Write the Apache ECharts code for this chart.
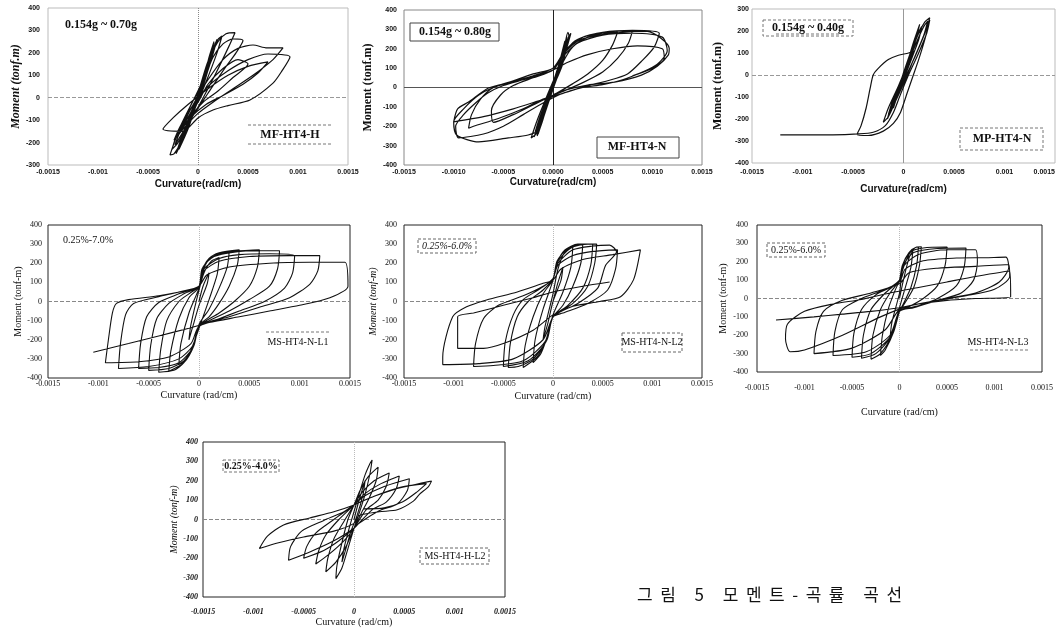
<!DOCTYPE html>
<html>
<head>
<meta charset="utf-8">
<script src="https://cdn.jsdelivr.net/npm/echarts@6/dist/echarts.min.js"></script>
<style>
html,body{margin:0;padding:0;background:#fff;}
#chart{position:absolute;left:0;top:0;width:1060px;height:628px;}
#cap{position:absolute;left:637px;top:581px;font-family:'Noto Sans CJK KR';font-size:17px;letter-spacing:7.5px;white-space:nowrap;color:#111;}
</style>
</head>
<body>
<div id="chart"></div>
<div id="cap">그림 5 모멘트-곡률 곡선</div>
<script>
// Curvature in units of 1e-4 rad/cm, moment in tonf-m
const xTicksShort = ['-0.0015','-0.001','-0.0005','0','0.0005','0.001','0.0015'];
const xTicksLong  = ['-0.0015','-0.0010','-0.0005','0.0000','0.0005','0.0010','0.0015'];

const loopMFHT4H = [
[0,0],[0.5,70],[1,140],[1.3,180],[0.9,110],[0,-10],[-0.8,-110],[-1.3,-170],[-0.9,-100],[0,20],
[0.7,120],[1.3,200],[1.7,240],[1.2,150],[0.2,20],[-0.9,-120],[-1.7,-210],[-2.1,-240],[-1.5,-160],[-0.4,-30],
[0.6,90],[1.1,180],[1.6,250],[1.1,160],[0.1,10],[-1,-140],[-1.9,-230],[-1.3,-150],[-0.2,-10],
[0.9,150],[1.9,260],[1.4,180],[0.2,30],[-1.1,-150],[-2.2,-250],[-1.6,-170],[-0.3,-20],
[0.6,100],[1.4,210],[2,260],[2.4,275],[1.9,200],[0.8,70],[-0.6,-80],[-1.6,-190],[-2.4,-250],[-2.8,-255],[-2.2,-180],[-1,-60],
[0.3,60],[1.2,180],[2,250],[2.8,285],[3.7,290],[3.1,230],[1.8,110],[0.4,-10],[-1,-120],[-2,-200],[-2.6,-230],[-2,-150],[-0.8,-40],
[0.5,70],[1.5,180],[2.5,240],[3.5,262],[4.5,255],[3.8,200],[2.5,120],[1,20],[-0.5,-80],[-1.6,-160],[-2.3,-210],[-1.7,-140],[-0.6,-40],
[1,80],[2.5,170],[4,220],[5.5,235],[6.9,222],[8.5,222],[7.5,170],[5.5,100],[3.5,40],[1.5,-20],[0,-70],[-1.3,-130],[-2.4,-190],[-1.8,-130],[-0.6,-40],
[1,50],[3,120],[5,170],[7,195],[9.2,182],[8.4,120],[7.5,65],[5.2,-10],[3,-35],[1.5,-55],[0,-90],[-1.5,-150],[-3.5,-140],[-2.5,-90],[-1,-30],
[1,40],[3,100],[5,140],[7,160],[6,110],[4.5,60],[2.5,10],[0.8,-30],[-0.8,-90],[-1.8,-150],[-1.2,-100],[0,-20],
[1,60],[2.5,130],[4,170],[5,150],[3.5,90],[2,30],[0.5,-20],[-1,-100],[-2,-170],[-1.4,-120],[-0.3,-30],[0.5,50],[1.1,140],[1.5,210],[1.2,160],[0.4,50],[-0.5,-60],[-1.2,-140],[-1.7,-200],[-1.3,-150],[-0.4,-40],[0.4,60],[0.9,130]
];

const loopMFHT4N = [
[0,0],[0.5,80],[1,150],[1.3,190],[0.9,110],[0,0],[-0.7,-90],[-1.2,-150],[-0.8,-90],[0,20],
[0.6,110],[1.1,200],[1.5,250],[1.1,160],[0.2,30],[-0.7,-100],[-1.4,-190],[-1.8,-230],[-1.3,-150],[-0.3,-20],
[0.3,60],[0.9,170],[1.4,260],[1,180],[0.1,20],[-0.8,-130],[-1.5,-240],[-1,-160],[-0.1,-10],
[0.7,140],[1.2,240],[0.8,150],[-0.2,-20],[-1.1,-180],[-1.6,-250],[-1.1,-170],[0,10],
[0.5,100],[1.2,210],[1.6,270],[1.5,285],[1.1,200],[0.2,50],[-0.8,-110],[-1.6,-220],[-1.9,-255],[-1.4,-180],[-0.4,-40],
[0.6,120],[1.3,230],[1.8,280],[1.3,190],[0.3,40],[-0.8,-130],[-1.5,-230],[-2.2,-260],[-1.6,-170],[-0.5,-30],
[0.4,80],[1,170],[1.6,250],[1.2,170],[0.2,20],[-0.9,-140],[-1.7,-240],[-1.3,-170],[-0.2,-10],
[1,130],[2,210],[3.5,260],[5,280],[6.5,285],[6,220],[5,140],[3.5,70],[2,20],[0,-40],[-2,-90],[-4,-140],[-6,-180],[-6.2,-120],[-5.3,-40],[-4,10],[-2,50],[0,90],
[1,170],[2.2,240],[4,275],[6,290],[8,292],[7.6,230],[6.5,150],[5,80],[3,25],[1,-20],[-1,-60],[-3,-110],[-5.5,-160],[-8,-200],[-8.5,-210],[-8.2,-140],[-7.3,-60],[-6,0],[-4,35],[-2,70],[0,100],
[1.2,190],[2.8,255],[5,285],[8,295],[10.7,280],[10.2,210],[9,140],[7.5,70],[5.5,35],[3.5,10],[1,-30],[-1.5,-70],[-4,-110],[-7,-150],[-10,-177],[-9.6,-110],[-8.5,-75],[-6.5,-3],[-4.2,28],[-2,60],[0,100],
[1,170],[2.5,240],[4.5,270],[7,285],[9.5,290],[11.7,203],[11.6,167],[10.5,110],[8.9,64],[6.2,28],[3.5,13],[1.5,-10],[0,-40],[-1,-130],[-1.5,-220],[-2.5,-245],[-4.5,-260],[-7.5,-281],[-9.7,-245],[-10,-177],[-9,-110],[-7.5,-40],[-6,0],[-4,30],[-2,60],[0,90],
[1,160],[2.5,230],[5,270],[8,280],[11,260],[11.5,190],[10.5,120],[9,80],[7,40],[5,15],[3,0],[1,-30],[-1,-80],[-3,-140],[-5,-200],[-7,-240],[-9.5,-260],[-9.8,-200],[-9,-140],[-7.8,-80],[-6.6,-30],[-5,10],[-3,40],[-1,70],[0,90],[1.5,130],[3.5,170],[6,200],[8.5,215],[11,200],[11.2,150],[10,100],[8,60]
];

const loopMPHT4N = [
[0,0],[0.5,70],[1,140],[1.3,180],[1,120],[0.2,10],[-0.5,-80],[-1,-150],[-0.7,-90],[0,10],
[0.6,90],[1.2,170],[1.8,220],[1.5,160],[0.6,50],[-0.3,-60],[-1,-140],[-1.6,-200],[-1.2,-140],[-0.3,-30],
[0.4,60],[1,150],[1.6,230],[1.2,160],[0.3,40],[-0.6,-90],[-1.3,-170],[-0.9,-110],[0,0],
[0.6,80],[1.4,180],[2.1,240],[2.6,260],[2.2,200],[1.2,90],[0.1,-20],[-0.8,-120],[-1.5,-190],[-2,-215],[-1.5,-150],[-0.5,-50],
[0.5,60],[1.3,150],[2,220],[2.4,245],[2,180],[1,70],[0,-40],[-0.8,-120],[-1.5,-180],[-1.1,-120],[-0.2,-20],
[0.5,50],[1,110],[0.5,100],[-0.5,90],[-1.5,70],[-2.5,30],[-3,0],[-3.3,-60],[-3.7,-150],[-4.2,-230],[-4.6,-270],[-3.5,-275],[-2,-255],[-1,-220],[-0.3,-170],[0.3,-90],[0.9,-10],[1.5,70],[2.1,160],[2.6,250],[2.3,190],[1.4,90],[0.4,-10],[-0.4,-100],[-1,-170],[-1.8,-230],[-3,-260],[-4.5,-268],[-7,-272],[-9.5,-272],[-12.2,-272]
];

const loopMSHT4NL1 = [
[0,0],[0.4,80],[1,150],[0.8,90],[0,-20],[-0.5,-110],[-1,-200],[-0.8,-120],[0,60],
[0.5,150],[1.2,210],[2,230],[1.8,140],[1,10],[0.2,-110],[-0.4,-200],[-1.2,-300],[-2,-330],[-1.8,-220],[-1,-60],[0,70],
[0.3,150],[1,220],[2,250],[3,260],[2.8,180],[2,70],[1,-40],[0,-120],[-0.5,-230],[-1.5,-320],[-3,-365],[-2.8,-260],[-2,-90],[-1,20],[0,75],
[0.3,160],[1,225],[2,255],[4,270],[3.8,190],[3,80],[2,-10],[1,-80],[0,-125],[-0.5,-230],[-1.5,-320],[-2.5,-360],[-4,-370],[-3.8,-250],[-3.2,-100],[-2,0],[-1,40],[0,80],
[0.3,170],[1.2,230],[3,260],[5,268],[6,270],[5.8,180],[5,80],[3.5,0],[2,-60],[0,-130],[-0.5,-230],[-1.5,-310],[-3,-350],[-5,-360],[-4.8,-230],[-4.2,-90],[-3,-10],[-1.5,40],[0,80],
[0.4,180],[1.5,235],[3.5,258],[6,265],[8,265],[7.8,170],[7,80],[5,10],[3,-50],[1,-100],[0,-130],[-0.6,-240],[-2,-320],[-4,-345],[-6,-350],[-5.8,-220],[-5.2,-80],[-4,-5],[-2,40],[0,80],
[0.5,170],[2,225],[4,245],[7,250],[9.5,240],[9.3,150],[8.5,70],[6.5,0],[4,-50],[2,-90],[0,-130],[-0.6,-230],[-2,-300],[-5,-340],[-8,-350],[-7.8,-220],[-7.3,-70],[-6.5,-10],[-4,25],[-2,50],[0,80],
[0.5,160],[2,210],[5,235],[9,240],[12,240],[11.8,160],[11,90],[9,20],[6,-30],[3,-80],[0,-130],[-0.8,-220],[-3,-290],[-6,-315],[-9.3,-320],[-9,-200],[-8.6,-60],[-8.2,-10],[-7,10],[-4,30],[-1,60],[0,80],
[0.8,140],[3,180],[7,200],[11,205],[14.5,205],[14.8,80],[13,20],[10,-20],[7,-50],[4,-80],[1,-110],[-1,-140],[-4,-180],[-7,-220],[-10.5,-265]
];

const loopMSHT4NL2 = [
[0,0],[0.5,100],[1,180],[0.8,110],[0,0],[-0.5,-110],[-1,-200],[-0.8,-130],[0,40],
[0.5,170],[1.2,260],[2,290],[1.8,180],[1,50],[0,-70],[-0.5,-170],[-1.2,-270],[-2,-320],[-1.8,-200],[-1,-40],[0,110],
[0.4,200],[1.2,270],[2.5,300],[3,300],[2.8,200],[2,80],[1,-20],[0,-80],[-0.6,-190],[-1.6,-290],[-3,-345],[-2.8,-230],[-2,-80],[-1,40],[0,115],
[0.4,210],[1.5,280],[3,300],[4,300],[3.8,190],[3,70],[1.5,-20],[0,-80],[-0.6,-200],[-2,-300],[-3.5,-340],[-4.5,-345],[-4.3,-220],[-3.6,-80],[-2.5,0],[-1,60],[0,120],
[0.5,210],[1.8,280],[3.5,300],[4.4,300],[4.2,200],[3.5,80],[2,-10],[0,-80],[-0.7,-210],[-2.5,-310],[-5,-340],[-4.8,-210],[-4,-70],[-3,10],[-1.5,60],[0,120],
[0.5,200],[2,270],[4,290],[5.7,295],[6.4,260],[5.3,190],[4.5,70],[2.5,-10],[0,-80],[-0.8,-210],[-3,-310],[-6,-335],[-8,-340],[-7.8,-220],[-7,-90],[-5.5,-20],[-3,30],[-1,80],[0,120],
[0.5,190],[2,240],[4,262],[6.5,270],[6.3,170],[5.5,60],[3.5,-10],[1,-60],[0,-80],[-1,-200],[-4,-300],[-7.5,-325],[-11.1,-330],[-11.1,-290],[-10.1,-80],[-8.7,-28],[-6.7,8],[-3.6,50],[-1,95],[0,112],
[0.8,170],[3,220],[6,245],[8.8,270],[8.1,113],[6.8,25],[4.7,0],[2,-25],[0,-70],[-2,-150],[-5,-220],[-7,-245],[-9.6,-245],[-9.6,-80],[-8,-60],[-5,-20],[-2,20],[0,50],[3,80],[5.7,102]
];

const loopMSHT4NL3 = [
[0,0],[0.5,120],[1,220],[1.4,260],[1.2,170],[0.5,40],[0,-50],[-0.5,-140],[-1,-220],[-0.8,-130],[0,30],
[0.3,150],[1,240],[1.6,275],[2,280],[1.8,180],[1.2,60],[0.3,-40],[0,-70],[-0.6,-180],[-1.5,-280],[-2,-310],[-1.8,-200],[-1.2,-60],[-0.5,40],[0,100],
[0.3,180],[1,250],[1.8,280],[2.3,282],[2.1,180],[1.5,60],[0.5,-30],[0,-70],[-0.8,-200],[-2,-300],[-3,-330],[-2.8,-200],[-2,-60],[-1,30],[0,100],
[0.4,190],[1.2,255],[2.5,275],[5,280],[4.8,180],[4,70],[2.5,0],[1,-45],[0,-70],[-0.8,-200],[-2.5,-300],[-4,-325],[-3.8,-200],[-3,-60],[-1.5,30],[0,100],
[0.5,190],[1.5,250],[4,272],[7,275],[6.8,170],[6,70],[4,0],[2,-40],[0,-70],[-1,-210],[-3,-300],[-5,-320],[-4.8,-190],[-4,-60],[-2.5,20],[-1,60],[0,100],
[0.5,180],[2,240],[5,265],[8,265],[8.2,200],[7.8,100],[6.5,30],[4,-10],[1.5,-50],[0,-70],[-1,-200],[-3.5,-290],[-7,-310],[-6.8,-180],[-6,-60],[-4,0],[-2,40],[0,90],
[0.6,160],[2.5,205],[6,220],[9,222],[11.2,225],[11.5,170],[10.5,90],[8,30],[5,0],[2,-30],[0,-60],[-1.5,-170],[-5,-270],[-9,-300],[-8.8,-180],[-8,-70],[-6,-10],[-3,30],[0,80],
[1,140],[4,165],[8,175],[11.5,185],[11.6,120],[10,50],[7,15],[4,-10],[1,-40],[-2,-100],[-6,-200],[-10,-280],[-11.5,-290],[-12,-220],[-11.8,-140],[-10,-70],[-7,-30],[-4,-5],[-1,30],[2,60],[5,90],[8,120],[11.6,150],[11.7,10],[8,0],[5,-10],[2,-30],[0,-50],[-3,-70],[-6,-85],[-9,-100],[-13,-117]
];

const loopMSHT4HL2 = [
[0,0],[0.4,80],[0.8,150],[1.1,200],[0.9,130],[0.3,20],[-0.3,-60],[-0.8,-150],[-1.2,-220],[-1,-150],[-0.4,-30],[0,40],
[0.5,130],[1.1,230],[1.6,290],[1.8,307],[1.6,240],[1.1,130],[0.5,30],[0,-45],[-0.6,-150],[-1.2,-250],[-1.8,-305],[-1.7,-240],[-1.2,-120],[-0.6,0],[0,75],
[0.6,150],[1.4,220],[2.4,270],[2.2,200],[1.5,110],[0.7,30],[0,-45],[-0.8,-140],[-1.8,-220],[-2.8,-270],[-2.6,-200],[-2,-100],[-1,-10],[0,75],
[0.8,140],[2,200],[3.5,240],[3.2,170],[2.4,100],[1.2,50],[0,-45],[-1,-110],[-2.5,-180],[-3.8,-230],[-3.5,-160],[-2.8,-80],[-1.5,0],[0,75],
[1,130],[2.5,180],[4.5,225],[4.2,160],[3.2,90],[1.8,50],[0,-45],[-1.5,-110],[-3,-160],[-5,-200],[-4.7,-140],[-3.8,-70],[-2,0],[0,75],
[1,120],[3,170],[5.5,210],[5.3,150],[4.3,80],[2.5,45],[0.5,-20],[0,-45],[-2,-110],[-4.5,-170],[-6.5,-210],[-6.3,-140],[-5.2,-60],[-3,-5],[-1,40],[0,75],
[1.5,110],[4,155],[6.5,185],[7.7,198],[7.4,170],[6.5,130],[5.9,95],[4.3,50],[2.5,40],[0.5,20],[0,-20],[-2,-60],[-5,-90],[-7.5,-120],[-9.4,-150],[-8.6,-86],[-7,-28],[-4.4,8],[-2,40],[0,75],[2,120],[4.5,165],[7.2,185],[6.2,140],[4.8,90],[3,60],[1,55]
];

const panels = [
  {name:'MF-HT4-H', data:loopMFHT4H, ticks:xTicksShort, ymin:-300, ymax:400,
   grid:{left:48, top:8, width:300, height:157}, style:'top', border:'#bbb',
   xLabelMargin:4, yLabelMargin:8, xNameGap:14, yNameGap:26, yItalic:true,
   zeroH:{color:'#999', type:'dashed'}, zeroV:{color:'#888', type:'dotted'}},
  {name:'MF-HT4-N', data:loopMFHT4N, ticks:xTicksLong, ymin:-400, ymax:400,
   grid:{left:404, top:10, width:298, height:155}, style:'top', border:'#888',
   xLabelMargin:4, yLabelMargin:7, xNameGap:12, yNameGap:30, yItalic:false,
   zeroH:{color:'#555', type:'solid'}, zeroV:{color:'#222', type:'solid'}},
  {name:'MP-HT4-N', data:loopMPHT4N, ticks:xTicksShort, ymin:-400, ymax:300,
   grid:{left:752, top:9, width:303, height:154}, style:'top', border:'#bbb', alignMax:true,
   xLabelMargin:6, yLabelMargin:3, xNameGap:21, yNameGap:28, yItalic:false,
   zeroH:{color:'#999', type:'dashed'}, zeroV:{color:'#999', type:'solid'}},
  {name:'MS-HT4-N-L1', data:loopMSHT4NL1, ticks:xTicksShort, ymin:-400, ymax:400,
   grid:{left:48, top:225, width:302, height:153}, style:'mid', border:'#222',
   xLabelMargin:2, yLabelMargin:6, xNameGap:12, yNameGap:20, yItalic:false,
   zeroH:{color:'#888', type:'dashed'}, zeroV:{color:'#bbb', type:'dotted'}},
  {name:'MS-HT4-N-L2', data:loopMSHT4NL2, ticks:xTicksShort, ymin:-400, ymax:400,
   grid:{left:404, top:225, width:298, height:153}, style:'mid', border:'#222',
   xLabelMargin:2, yLabelMargin:7, xNameGap:13, yNameGap:25, yItalic:true,
   zeroH:{color:'#888', type:'dashed'}, zeroV:{color:'#bbb', type:'dotted'}},
  {name:'MS-HT4-N-L3', data:loopMSHT4NL3, ticks:xTicksShort, ymin:-400, ymax:400,
   grid:{left:757, top:225, width:285, height:147}, style:'mid', border:'#222',
   xLabelMargin:12, yLabelMargin:9, xNameGap:35, yNameGap:29, yItalic:false,
   zeroH:{color:'#888', type:'dashed'}, zeroV:{color:'#bbb', type:'dotted'}},
  {name:'MS-HT4-H-L2', data:loopMSHT4HL2, ticks:xTicksShort, ymin:-400, ymax:400,
   grid:{left:203, top:442, width:302, height:155}, style:'bot', border:'#222',
   xLabelMargin:11, yLabelMargin:5, xNameGap:20, yNameGap:21, yItalic:true,
   zeroH:{color:'#888', type:'dashed'}, zeroV:{color:'#bbb', type:'dotted'}}
];

const chart = echarts.init(document.getElementById('chart'), null, {renderer:'canvas'});

const grids = [], xAxes = [], yAxes = [], series = [];
panels.forEach((p, i) => {
  const top = p.style === 'top';
  const bot = p.style === 'bot';
  grids.push(Object.assign({show:true, borderColor:p.border, borderWidth:1, backgroundColor:'#fff', outerBoundsMode:'none', containLabel:false}, p.grid));
  const tickFont = top ? {fontFamily:'Liberation Sans', fontWeight:'bold', fontSize:7}
                       : {fontFamily:'Liberation Serif', fontWeight: bot ? 'bold' : 'normal', fontStyle: bot ? 'italic' : 'normal', fontSize:8};
  const xLabel = Object.assign({color:'#111', margin:p.xLabelMargin, formatter:(v)=>p.ticks[Math.round((v+15)/5)]}, tickFont);
  if (p.alignMax) xLabel.alignMaxLabel = 'right';
  xAxes.push({
    type:'value', gridIndex:i, min:-15, max:15, interval:5,
    axisLine:{show:false}, axisTick:{show:false}, splitLine:{show:false},
    axisLabel:xLabel,
    name: top ? 'Curvature(rad/cm)' : 'Curvature (rad/cm)',
    nameLocation:'middle', nameGap:p.xNameGap,
    nameTextStyle: top ? {fontFamily:'Liberation Sans', fontWeight:'bold', fontSize:10, color:'#111'}
                       : {fontFamily:'Liberation Serif', fontSize:10, color:'#111'}
  });
  yAxes.push({
    type:'value', gridIndex:i, min:p.ymin, max:p.ymax, interval:100,
    axisLine:{show:false}, axisTick:{show:false}, splitLine:{show:false},
    axisLabel:Object.assign({color:'#111', margin:p.yLabelMargin}, tickFont),
    name: top ? 'Moment (tonf.m)' : 'Moment (tonf-m)',
    nameLocation:'middle', nameGap:p.yNameGap,
    nameTextStyle: top ? {fontFamily:'Liberation Serif', fontWeight:'bold', fontStyle:p.yItalic?'italic':'normal', fontSize:12, color:'#111'}
                       : {fontFamily:'Liberation Serif', fontStyle:p.yItalic?'italic':'normal', fontSize:10, color:'#111'}
  });
  series.push({
    type:'line', name:p.name, xAxisIndex:i, yAxisIndex:i, data:p.data,
    showSymbol:false, smooth:0.25, animation:false, z:3,
    lineStyle:{color:'#111', width: top ? 1.2 : 1.1},
    markLine:{silent:true, symbol:'none', label:{show:false}, animation:false, z:1,
      data:[{yAxis:0, lineStyle:Object.assign({width:1}, p.zeroH)},
            {xAxis:0, lineStyle:Object.assign({width:1}, p.zeroV)}]}
  });
});

function label(x, y, text, font, box, lines) {
  const els = [];
  if (box) els.push({type:'rect', shape:{x:box[0], y:box[1], width:box[2], height:box[3]},
    style:{fill:'#fff', stroke:box[4] || '#555', lineWidth:1, lineDash:box[5] === 'solid' ? null : [3,2]}, z:10});
  (lines || []).forEach(l => els.push({type:'line', shape:{x1:l[0], y1:l[1], x2:l[2], y2:l[3]},
    style:{stroke:'#777', lineWidth:1, lineDash:[3,2]}, z:10}));
  els.push({type:'text', x:x, y:y, z:11, style:Object.assign({text:text, fill:'#111', align:'center', verticalAlign:'middle'}, font)});
  return els;
}
const topFont = {fontFamily:'Liberation Serif', fontWeight:'bold', fontSize:12};
const midFont = {fontFamily:'Liberation Serif', fontSize:10};
const graphics = [].concat(
  label(101, 25, '0.154g ~ 0.70g', topFont),
  label(290, 135, 'MF-HT4-H', topFont, null, [[248,125,332,125],[248,144,332,144]]),
  label(455, 32, '0.154g ~ 0.80g', topFont, [410,23,89,18,'#444','solid']),
  label(637, 147, 'MF-HT4-N', topFont, [597,137,82,21,'#444','solid']),
  label(808, 28, '0.154g ~ 0.40g', topFont, [763,20,90,16,'#777'], [[776,34,840,34]]),
  label(1002, 139, 'MP-HT4-N', topFont, [960,128,83,22,'#777']),
  label(88, 240, '0.25%-7.0%', midFont),
  label(298, 342, 'MS-HT4-N-L1', midFont, null, [[266,332,331,332]]),
  label(447, 246, '0.25%-6.0%', Object.assign({fontStyle:'italic'}, midFont), [418,239,58,14,'#666']),
  label(652, 342, 'MS-HT4-N-L2', midFont, [622,333,60,19,'#666']),
  label(796, 250, '0.25%-6.0%', midFont, [767,243,58,14,'#666']),
  label(998, 342, 'MS-HT4-N-L3', midFont, null, [[970,350,1028,350]]),
  label(251, 466, '0.25%-4.0%', {fontFamily:'Liberation Serif', fontWeight:'bold', fontSize:10}, [223,460,56,12,'#777']),
  label(455, 556, 'MS-HT4-H-L2', midFont, [420,548,69,16,'#666'])
);

chart.setOption({
  animation:false,
  backgroundColor:'#fff',
  grid:grids, xAxis:xAxes, yAxis:yAxes, series:series,
  graphic:graphics
});
</script>
</body>
</html>
